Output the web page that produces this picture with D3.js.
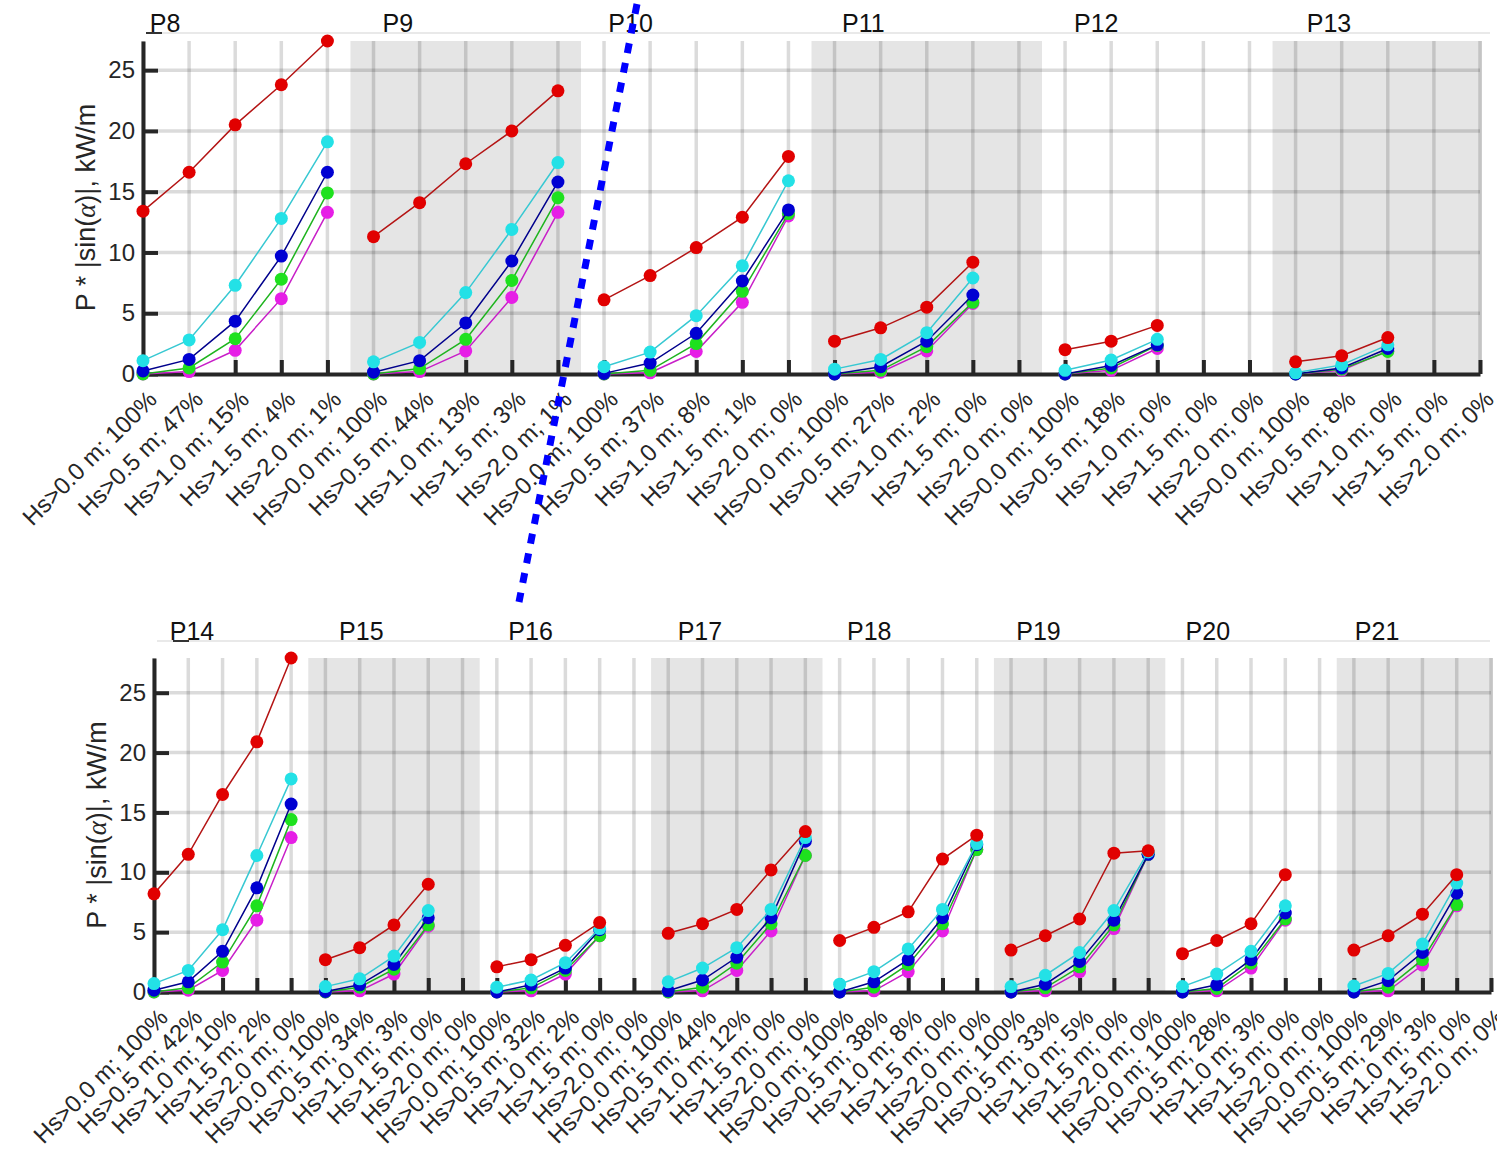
<!DOCTYPE html>
<html>
<head>
<meta charset="utf-8">
<script src="https://cdn.jsdelivr.net/npm/d3@7"></script>
<style>
  body { margin: 0; background: #fff; }
  svg { display: block; font-family: "Liberation Sans", Arial, sans-serif; }
</style>
</head>
<body>
<div id="chart"></div>
<script>
// ---- data -------------------------------------------------------------
const hsLevels = ["0.0", "0.5", "1.0", "1.5", "2.0"];

const topPanels = ["P8", "P9", "P10", "P11", "P12", "P13"];
const topPercents = [
    [100, 47, 15, 4, 1], [100, 44, 13, 3, 1], [100, 37, 8, 1, 0],
    [100, 27, 2, 0, 0], [100, 18, 0, 0, 0], [100, 8, 0, 0, 0]
];
const topRed = [[13.4, 16.6, 20.5, 23.8, 27.4], [11.3, 14.1, 17.3, 20.0, 23.3], [6.1, 8.1, 10.4, 12.9, 17.9], [2.7, 3.8, 5.5, 9.2], [2.0, 2.7, 4.0], [1.0, 1.5, 3.0]];
const topCyan = [[1.1, 2.8, 7.3, 12.8, 19.1], [1.0, 2.6, 6.7, 11.9, 17.4], [0.6, 1.8, 4.8, 8.9, 15.9], [0.4, 1.2, 3.4, 7.9], [0.3, 1.15, 2.85], [0.1, 0.75, 2.4]];
const topBlue = [[0.25, 1.2, 4.35, 9.7, 16.6], [0.15, 1.1, 4.2, 9.3, 15.8], [0.05, 0.9, 3.35, 7.65, 13.5], [0, 0.6, 2.7, 6.5], [0, 0.7, 2.4], [0, 0.5, 2.1]];
const topGreen = [[0, 0.5, 2.9, 7.8, 14.9], [0, 0.45, 2.85, 7.7, 14.5], [0, 0.3, 2.5, 6.8, 13.2], [0, 0.3, 2.25, 5.9], [0, 0.5, 2.35], [0, 0.4, 1.85]];
const topMagenta = [[0, 0.2, 1.95, 6.2, 13.3], [0, 0.2, 1.9, 6.3, 13.3], [0, 0.1, 1.85, 5.9, 13.0], [0, 0.15, 1.9, 5.8], [0, 0.3, 2.1], [0, 0.3, 1.9]];

const bottomPanels = ["P14", "P15", "P16", "P17", "P18", "P19", "P20", "P21"];
const bottomPercents = [
    [100, 42, 10, 2, 0], [100, 34, 3, 0, 0], [100, 32, 2, 0, 0], [100, 44, 12, 0, 0],
    [100, 38, 8, 0, 0], [100, 33, 5, 0, 0], [100, 28, 3, 0, 0], [100, 29, 3, 0, 0]
];
const bottomRed = [[8.2, 11.5, 16.5, 20.9, 27.9], [2.7, 3.7, 5.6, 9.0], [2.1, 2.7, 3.9, 5.8], [4.9, 5.7, 6.9, 10.2, 13.4], [4.3, 5.4, 6.7, 11.1, 13.1], [3.5, 4.7, 6.1, 11.6, 11.8], [3.2, 4.3, 5.7, 9.8], [3.5, 4.7, 6.5, 9.8]];
const bottomCyan = [[0.7, 1.8, 5.2, 11.4, 17.8], [0.45, 1.1, 3.0, 6.8], [0.4, 1.0, 2.45, 5.3], [0.85, 2.0, 3.7, 6.9, 12.9], [0.65, 1.7, 3.6, 6.9, 12.4], [0.45, 1.4, 3.3, 6.8, 11.7], [0.45, 1.5, 3.4, 7.2], [0.5, 1.55, 4.0, 9.1]];
const bottomBlue = [[0.15, 0.85, 3.4, 8.7, 15.7], [0.05, 0.6, 2.3, 6.2], [0, 0.6, 2.0, 5.2], [0.1, 1.0, 2.9, 6.2, 12.6], [0, 0.85, 2.7, 6.2, 12.3], [0, 0.65, 2.55, 6.0, 11.5], [0, 0.6, 2.7, 6.6], [0, 0.95, 3.3, 8.25]];
const bottomGreen = [[0, 0.35, 2.5, 7.2, 14.4], [0, 0.4, 1.9, 5.6], [0, 0.35, 1.8, 4.7], [0, 0.4, 2.4, 5.7, 11.4], [0, 0.4, 2.3, 5.7, 11.9], [0, 0.35, 2.1, 5.6, 11.5], [0, 0.3, 2.4, 6.1], [0, 0.4, 2.7, 7.3]];
const bottomMagenta = [[0, 0.15, 1.8, 6.0, 12.9], [0, 0.1, 1.5, 5.5], [0, 0.1, 1.5, 4.7], [0, 0.1, 1.8, 5.1, 11.4], [0, 0.1, 1.7, 5.1, 11.9], [0, 0.1, 1.7, 5.3, 11.5], [0, 0.1, 2.0, 6.0], [0, 0.1, 2.25, 7.2]];

const yTicks = [0, 5, 10, 15, 20, 25];

// ---- styles -----------------------------------------------------------
// drawing order: magenta first, red last (on top)
const seriesStyle = [
    { key: "magenta", line: "#c81ec8", fill: "#e61ee6" },
    { key: "green", line: "#1eb41e", fill: "#1ee11e" },
    { key: "blue", line: "#00008c", fill: "#0000d2" },
    { key: "cyan", line: "#37c8d2", fill: "#23e1e6" },
    { key: "red", line: "#b41414", fill: "#e10000" }
];
const textColor = "#262626";

const rows = [
    {
        panels: topPanels, percents: topPercents,
        series: { red: topRed, cyan: topCyan, blue: topBlue, green: topGreen, magenta: topMagenta },
        left: 143, right: 1480, top: 41, bottom: 374,
        titleX0: 165, titleStep: 232.8, titleY: 32
    },
    {
        panels: bottomPanels, percents: bottomPercents,
        series: { red: bottomRed, cyan: bottomCyan, blue: bottomBlue, green: bottomGreen, magenta: bottomMagenta },
        left: 154, right: 1491, top: 658, bottom: 992,
        titleX0: 192, titleStep: 169.3, titleY: 640
    }
];

const svg = d3.select("#chart").append("svg")
    .attr("width", 1497)
    .attr("height", 1152);

rows.forEach(row => drawRow(svg.append("g"), row));

// dotted annotation line
svg.append("line")
    .attr("x1", 637).attr("y1", 4)
    .attr("x2", 519).attr("y2", 602)
    .attr("stroke", "#0000ff")
    .attr("stroke-width", 7)
    .attr("stroke-dasharray", "10 10");

function drawRow(g, row) {
    const n = row.panels.length * 5;
    const labels = [];
    row.percents.forEach(p => p.forEach((v, i) => labels.push(`Hs>${hsLevels[i]} m; ${v}%`)));

    const allValues = d3.merge(Object.values(row.series).map(s => d3.merge(s)));
    const x = d3.scaleLinear().domain([0, n - 1]).range([row.left, row.right]);
    const y = d3.scaleLinear().domain([0, d3.max(allValues)]).range([row.bottom, row.top]);

    // title strip line
    g.append("line")
        .attr("x1", row.left + 3).attr("x2", 1490)
        .attr("y1", row.titleY + 1).attr("y2", row.titleY + 1)
        .attr("stroke", "#e2e2e2").attr("stroke-width", 1.5);
    g.append("line")
        .attr("x1", row.titleX0 - 19).attr("x2", row.titleX0 - 3)
        .attr("y1", row.titleY + 1).attr("y2", row.titleY + 1)
        .attr("stroke", "#333").attr("stroke-width", 2);

    // shaded panels
    g.selectAll(".band")
        .data(row.panels.map((p, k) => k).filter(k => k % 2 === 1))
        .join("rect")
        .attr("class", "band")
        .attr("x", k => x(k * 5 - 0.5))
        .attr("width", k => Math.min(x(k * 5 + 4.5), row.right + 2) - x(k * 5 - 0.5))
        .attr("y", row.top)
        .attr("height", row.bottom - row.top)
        .attr("fill", "#e5e5e5");

    // grid
    g.selectAll(".vgrid")
        .data(d3.range(n))
        .join("line")
        .attr("class", "vgrid")
        .attr("x1", d => x(d)).attr("x2", d => x(d))
        .attr("y1", row.top).attr("y2", row.bottom)
        .attr("stroke", "rgba(0,0,0,0.14)").attr("stroke-width", 3.5);
    g.selectAll(".hgrid")
        .data(yTicks.filter(t => t > 0))
        .join("line")
        .attr("class", "hgrid")
        .attr("x1", row.left).attr("x2", row.right)
        .attr("y1", d => y(d)).attr("y2", d => y(d))
        .attr("stroke", "rgba(0,0,0,0.14)").attr("stroke-width", 3.5);

    // titles
    g.selectAll(".title")
        .data(row.panels)
        .join("text")
        .attr("class", "title")
        .attr("x", (d, k) => row.titleX0 + k * row.titleStep)
        .attr("y", row.titleY)
        .attr("text-anchor", "middle")
        .attr("font-size", 25)
        .attr("fill", "#111")
        .text(d => d);

    // axes
    const yAxis = g.append("g")
        .attr("transform", `translate(${row.left},0)`)
        .call(d3.axisLeft(y).tickValues(yTicks).tickSize(-15).tickSizeOuter(0).tickPadding(8));
    const xAxis = g.append("g")
        .attr("transform", `translate(0,${row.bottom})`)
        .call(d3.axisBottom(x).tickValues(d3.range(n)).tickSize(-14).tickSizeOuter(0)
            .tickFormat(i => labels[i]));

    [yAxis, xAxis].forEach(a => {
        a.select(".domain").attr("stroke", textColor).attr("stroke-width", 4);
        a.selectAll(".tick line").attr("stroke", textColor).attr("stroke-width", 4);
        a.selectAll("text").attr("fill", textColor).attr("font-size", 24)
            .attr("font-family", "'Liberation Sans', Arial, sans-serif");
    });
    xAxis.selectAll(".tick text")
        .attr("y", 0)
        .attr("dy", "0.35em")
        .attr("text-anchor", "end")
        .attr("transform", "translate(9,21) rotate(-45)");

    // y label
    const yl = g.append("text")
        .attr("transform", `translate(${row.left - 48},${(row.top + row.bottom) / 2}) rotate(-90)`)
        .attr("text-anchor", "middle")
        .attr("font-size", 27)
        .attr("fill", textColor);
    yl.append("tspan").text("P * |sin(");
    yl.append("tspan").attr("font-family", "'Liberation Serif', serif").attr("font-style", "italic").text("α");
    yl.append("tspan").text(")|, kW/m");

    // data
    const line = d3.line().x(d => x(d[0])).y(d => y(d[1]));
    seriesStyle.forEach(st => {
        const panels = row.series[st.key];
        const sg = g.append("g").attr("class", "series-" + st.key);
        const pts = panels.map((vals, k) => vals.map((v, i) => [k * 5 + i, v]));
        sg.selectAll("path")
            .data(pts)
            .join("path")
            .attr("d", line)
            .attr("fill", "none")
            .attr("stroke", st.line)
            .attr("stroke-width", 1.5);
        sg.selectAll("circle")
            .data(d3.merge(pts))
            .join("circle")
            .attr("cx", d => x(d[0]))
            .attr("cy", d => y(d[1]))
            .attr("r", 6.5)
            .attr("fill", st.fill);
    });
}
</script>
</body>
</html>
